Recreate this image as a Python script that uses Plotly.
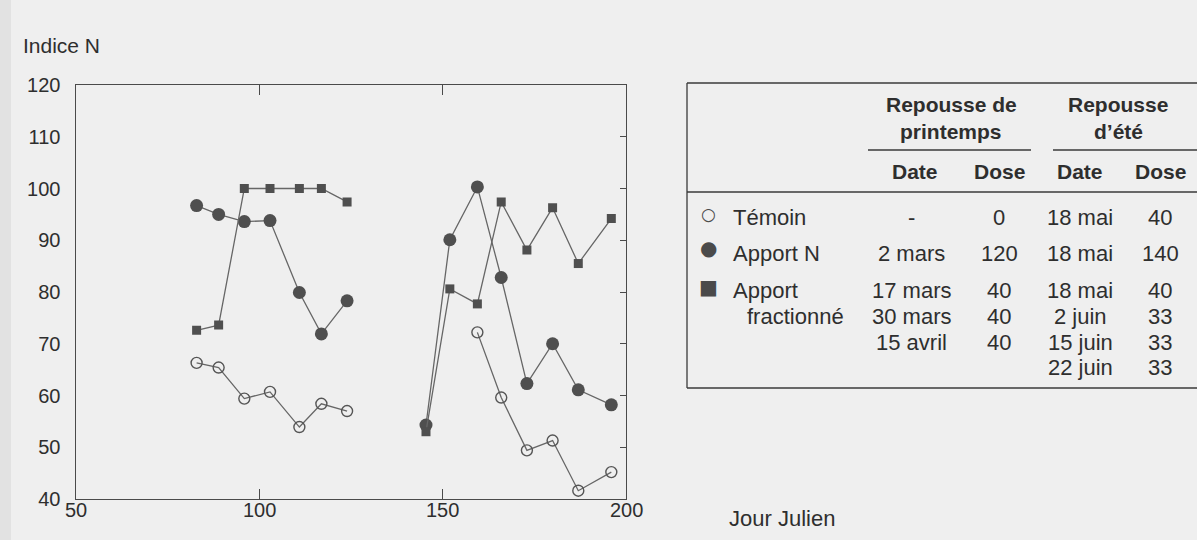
import plotly.graph_objects as go

# ---- data ----
jours_printemps = [83, 89, 96, 103, 111, 117, 124]
jours_ete = [145.5, 152, 159.5, 166, 173, 180, 187, 196]

temoin_printemps = [66.3, 65.4, 59.4, 60.7, 53.9, 58.4, 57.0]
temoin_ete = [None, None, 72.2, 59.6, 49.4, 51.3, 41.6, 45.2]

apportN_printemps = [96.7, 95.0, 93.6, 93.8, 79.9, 71.9, 78.3]
apportN_ete = [54.3, 90.1, 100.3, 82.8, 62.3, 70.0, 61.1, 58.2]

fract_printemps = [72.6, 73.6, 100.0, 100.0, 100.0, 100.0, 97.4]
fract_ete = [53.0, 80.6, 77.7, 97.4, 88.1, 96.3, 85.5, 94.2]

x_ticks = [50, 100, 150, 200]
y_ticks = [40, 50, 60, 70, 80, 90, 100, 110, 120]

# table content
table_rows = [
    ("○", "Témoin", "-", "0", "18 mai", "40"),
    ("●", "Apport N", "2 mars", "120", "18 mai", "140"),
    ("■", "Apport", "17 mars", "40", "18 mai", "40"),
    ("", "fractionné", "30 mars", "40", "2 juin", "33"),
    ("", "", "15 avril", "40", "15 juin", "33"),
    ("", "", "", "", "22 juin", "33"),
]

W, H = 1197, 540
BG = "#efefef"
INK = "#4a4a4a"
TXT = "#2e2e2e"
FONT = "Liberation Sans, Arial, sans-serif"


def px(x):
    return x / W


def py(y):
    return 1 - y / H


x_all = jours_printemps + [None] + jours_ete

fig = go.Figure()

series = [
    ("Témoin", temoin_printemps + [None] + temoin_ete,
     dict(symbol="circle-open", size=11, color="#555555", line=dict(width=1.4, color="#555555"))),
    ("Apport N", apportN_printemps + [None] + apportN_ete,
     dict(symbol="circle", size=13, color="#4f4f4f")),
    ("Apport fractionné", fract_printemps + [None] + fract_ete,
     dict(symbol="square", size=9, color="#4f4f4f")),
]

for name, ys, mk in series:
    fig.add_trace(go.Scatter(
        x=x_all, y=ys, name=name, mode="lines+markers",
        line=dict(color="#666666", width=1.3),
        marker=mk, connectgaps=False, showlegend=False,
    ))

# invisible trace to carry the right-hand tick axis
fig.add_trace(go.Scatter(x=[50], y=[40], yaxis="y2", mode="markers",
                         marker=dict(opacity=0), hoverinfo="skip", showlegend=False))

fig.update_layout(
    width=W, height=H,
    margin=dict(l=0, r=0, t=0, b=0),
    paper_bgcolor=BG, plot_bgcolor=BG,
    font=dict(family=FONT, color=TXT),
    xaxis=dict(
        domain=[px(75.5), px(626)], range=[50, 200], tickvals=x_ticks,
        showline=True, linecolor=INK, linewidth=1.2, mirror="ticks",
        ticks="inside", ticklen=10, tickcolor=INK, tickwidth=1.2,
        showgrid=False, zeroline=False, automargin=False,
        showticklabels=False,
    ),
    yaxis=dict(
        domain=[py(499), py(85)], range=[40, 120], tickvals=y_ticks,
        showline=True, linecolor=INK, linewidth=1.2, mirror=True,
        ticks="", showgrid=False, zeroline=False, automargin=False,
        ticklabelstandoff=10,
        tickfont=dict(size=20, color=TXT),
    ),
    yaxis2=dict(
        overlaying="y", side="right", anchor="x", range=[40, 120],
        tickvals=y_ticks[1:-1], ticks="inside", ticklen=6, tickcolor=INK,
        showticklabels=False, showline=False, showgrid=False, zeroline=False,
        automargin=False,
    ),
)

annotations = []
# x tick labels placed as text in data coordinates
for v in x_ticks:
    annotations.append(dict(x=v, xref="x", y=py(510), text=str(v), xanchor="center", yanchor="middle",
                            font=dict(size=20, color=TXT)))
annotations.append(dict(x=px(21), y=py(45), text="Indice N", xanchor="left", yanchor="middle",
                        font=dict(size=21, color=TXT)))
annotations.append(dict(x=px(782), y=py(518), text="Jour Julien", xanchor="center", yanchor="middle",
                        font=dict(size=22, color=TXT)))

# table headers
hdr_font = dict(size=21, color=TXT, family=FONT)
annotations += [
    dict(x=px(951), y=py(105), text="<b>Repousse de</b>", xanchor="center", yanchor="middle", font=hdr_font),
    dict(x=px(951), y=py(131), text="<b>printemps</b>", xanchor="center", yanchor="middle", font=hdr_font),
    dict(x=px(1118), y=py(105), text="<b>Repousse</b>", xanchor="center", yanchor="middle", font=hdr_font),
    dict(x=px(1118), y=py(131), text="<b>d’été</b>", xanchor="center", yanchor="middle", font=hdr_font),
]
col_x = [915, 999, 1080, 1160]
for cx, lab in zip(col_x, ["Date", "Dose", "Date", "Dose"]):
    annotations.append(dict(x=px(cx), y=py(171), text=f"<b>{lab}</b>", xanchor="center",
                            yanchor="middle", font=hdr_font))

row_y = [217, 253, 290, 316, 342, 367]
row_font = dict(size=22, color=TXT, family=FONT)
for (sym, label, d1, q1, d2, q2), ry in zip(table_rows, row_y):
    if sym:
        sy = ry - (5 if sym == "●" else 3)
        annotations.append(dict(x=px(708), y=py(sy), text=sym, xanchor="center", yanchor="middle",
                                font=dict(size=17 if sym == "○" else 20, color="#4a4a4a", family="DejaVu Sans")))
    if label:
        lx = 745 if label == "fractionné" else 731
        annotations.append(dict(x=px(lx), y=py(ry), text=label, xanchor="left", yanchor="middle", font=row_font))
    for cx, val in zip(col_x, [d1, q1, d2, q2]):
        if val:
            annotations.append(dict(x=px(cx - (4 if cx == 915 else 0)), y=py(ry), text=val,
                                    xanchor="center", yanchor="middle", font=row_font))

for a in annotations:
    a.setdefault("xref", "paper")
    a.update(yref="paper", showarrow=False)
fig.update_layout(annotations=annotations)

line_style = dict(color="#3a3a3a", width=1.3)
shapes = [
    # table frame (right side runs off the page)
    dict(type="line", x0=px(687), x1=px(1197), y0=py(83), y1=py(83), line=line_style),
    dict(type="line", x0=px(687), x1=px(687), y0=py(83), y1=py(388), line=line_style),
    dict(type="line", x0=px(687), x1=px(1197), y0=py(388), y1=py(388), line=line_style),
    # header underlines
    dict(type="line", x0=px(868), x1=px(1031), y0=py(150), y1=py(150), line=line_style),
    dict(type="line", x0=px(1053), x1=px(1197), y0=py(150), y1=py(150), line=line_style),
    dict(type="line", x0=px(687), x1=px(1197), y0=py(192), y1=py(192), line=line_style),
    # darker scan edge on the left
    dict(type="rect", x0=0, x1=px(11), y0=0, y1=1, line=dict(width=0), fillcolor="#e2e2e2", layer="below"),
]
for s in shapes:
    s.setdefault("xref", "paper")
    s.setdefault("yref", "paper")
fig.update_layout(shapes=shapes)

fig.write_html(
    "out.html",
    config={"displayModeBar": False},
    post_script="document.body.style.margin='0';document.body.style.overflow='hidden';"
                "document.body.style.background='#efefef';",
)
